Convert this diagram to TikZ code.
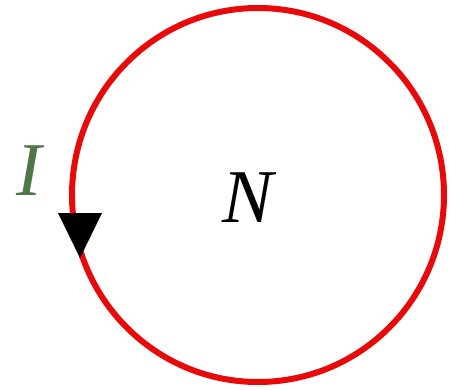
\documentclass[tikz,border=0pt]{standalone}
\usepackage{fontspec}
\setmainfont{Liberation Serif}
\definecolor{loopred}{RGB}{232,10,10}
\definecolor{curgreen}{RGB}{78,118,70}
\tikzset{
  loop/.style={draw=loopred, line width=6pt},
  lbl/.style={inner sep=0pt, font=\fontsize{76}{80}\selectfont\itshape}
}
\begin{document}
\begin{tikzpicture}[x=1pt,y=-1pt]
\useasboundingbox (0,0) rectangle (452,390);
\draw[loop] (258,195) ellipse [x radius=186, y radius=187];
\fill[black] (58,213) -- (102,213) -- (80,258) -- cycle;
\node[lbl, text=curgreen, anchor=base] (I) at (29,195) {I};
\node[lbl, text=black, anchor=base] (N) at (248,222) {N};
\end{tikzpicture}
\end{document}
